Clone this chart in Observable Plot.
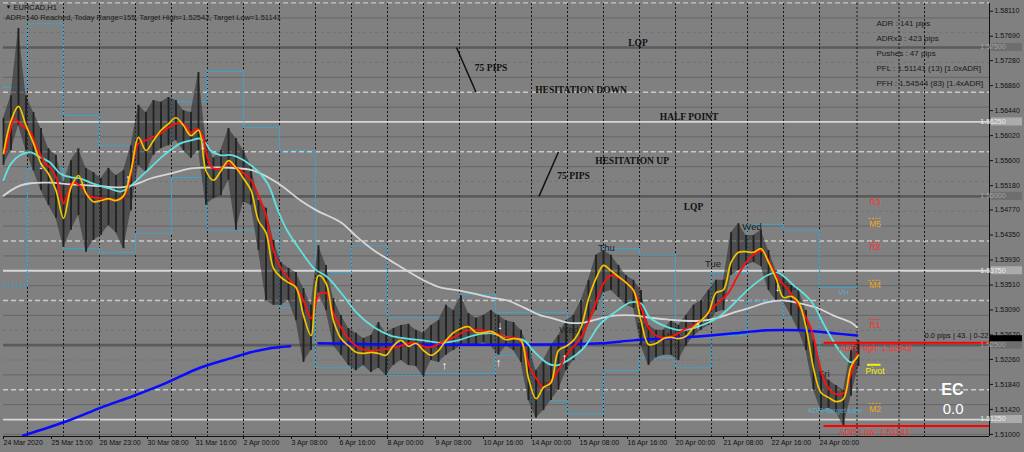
<!DOCTYPE html>
<html>
<head>
<meta charset="utf-8">
<script src="https://cdn.jsdelivr.net/npm/d3@7"></script>
<script src="https://cdn.jsdelivr.net/npm/@observablehq/plot@0.6"></script>
<style>
  html, body { margin:0; padding:0; background:#808080; }
  #chart { width:1024px; height:452px; overflow:hidden; }
  svg { display:block; }
</style>
</head>
<body>
<div id="chart"></div>
<script>
// ================= DATA =================
// hourly bars, index 0 = first bar on screen; candles sampled every 5 bars
const BAR_STEP = 5;
const candleHigh = [
 1.5631,1.5669,1.5782,1.5669,1.5641,1.5614,1.5580,1.5569,1.5523,1.5560,
 1.5580,1.5547,1.5540,1.5530,1.5547,1.5535,1.5543,1.5585,1.5653,1.5641,
 1.5661,1.5658,1.5666,1.5661,1.5644,1.5641,1.5708,1.5594,1.5564,1.5577,
 1.5614,1.5597,1.5577,1.5552,1.5493,1.5480,1.5426,1.5389,1.5379,1.5372,
 1.5345,1.5317,1.5417,1.5384,1.5328,1.5300,1.5278,1.5270,1.5261,1.5266,
 1.5288,1.5270,1.5278,1.5283,1.5285,1.5275,1.5270,1.5283,1.5291,1.5317,
 1.5308,1.5333,1.5303,1.5295,1.5300,1.5308,1.5300,1.5291,1.5288,1.5275,
 1.5249,1.5207,1.5224,1.5249,1.5266,1.5291,1.5300,1.5325,1.5359,1.5401,
 1.5409,1.5401,1.5384,1.5367,1.5359,1.5342,1.5283,1.5275,1.5275,1.5291,
 1.5283,1.5300,1.5317,1.5325,1.5342,1.5359,1.5359,1.5439,1.5454,1.5434,
 1.5434,1.5443,1.5409,1.5375,1.5367,1.5350,1.5342,1.5308,1.5258,1.5207,
 1.5191,1.5182,1.5174,1.5241,1.5258];
const candleLow = [
 1.5552,1.5577,1.5619,1.5577,1.5543,1.5510,1.5485,1.5463,1.5414,1.5443,
 1.5468,1.5406,1.5426,1.5434,1.5451,1.5439,1.5412,1.5476,1.5552,1.5540,
 1.5569,1.5580,1.5585,1.5594,1.5577,1.5564,1.5577,1.5485,1.5496,1.5501,
 1.5527,1.5443,1.5490,1.5485,1.5409,1.5325,1.5317,1.5317,1.5325,1.5291,
 1.5221,1.5241,1.5338,1.5308,1.5249,1.5233,1.5216,1.5207,1.5216,1.5204,
 1.5211,1.5199,1.5216,1.5224,1.5216,1.5214,1.5197,1.5224,1.5221,1.5233,
 1.5241,1.5249,1.5249,1.5249,1.5254,1.5248,1.5233,1.5248,1.5241,1.5221,
 1.5157,1.5127,1.5140,1.5157,1.5174,1.5207,1.5224,1.5241,1.5288,1.5308,
 1.5338,1.5342,1.5330,1.5317,1.5312,1.5249,1.5216,1.5229,1.5233,1.5233,
 1.5224,1.5248,1.5265,1.5275,1.5283,1.5305,1.5308,1.5367,1.5375,1.5384,
 1.5389,1.5382,1.5342,1.5325,1.5322,1.5300,1.5275,1.5241,1.5174,1.5140,
 1.5144,1.5137,1.5114,1.5164,1.5214];
// yellow fast average, same sample positions as the candles
const fastMA = [
 1.5572,1.5627,1.5651,1.5619,1.5589,1.5555,1.5538,1.5510,1.5463,1.5515,
 1.5535,1.5505,1.5491,1.5493,1.5496,1.5493,1.5501,1.5543,1.5599,1.5577,
 1.5594,1.5611,1.5622,1.5632,1.5619,1.5602,1.5611,1.5543,1.5527,1.5543,
 1.5560,1.5548,1.5530,1.5510,1.5459,1.5439,1.5379,1.5364,1.5355,1.5347,
 1.5300,1.5266,1.5367,1.5354,1.5291,1.5261,1.5249,1.5238,1.5236,1.5238,
 1.5236,1.5233,1.5249,1.5258,1.5248,1.5253,1.5241,1.5233,1.5241,1.5258,
 1.5271,1.5278,1.5281,1.5271,1.5271,1.5273,1.5266,1.5259,1.5261,1.5258,
 1.5194,1.5160,1.5179,1.5187,1.5241,1.5248,1.5258,1.5280,1.5328,1.5362,
 1.5384,1.5375,1.5365,1.5355,1.5342,1.5291,1.5251,1.5253,1.5261,1.5263,
 1.5261,1.5265,1.5280,1.5291,1.5305,1.5338,1.5343,1.5389,1.5406,1.5407,
 1.5406,1.5412,1.5389,1.5362,1.5330,1.5332,1.5322,1.5280,1.5211,1.5170,
 1.5162,1.5155,1.5160,1.5214,1.5233];
// [bar index, price]
const redMA = [[1,1.5572],[5,1.5616],[7,1.5631],[11,1.5622],[18,1.5607],[21,1.5589],[28,1.5555],[31,1.5548],[35,1.5532],[38,1.5505],
 [40,1.5488],[43,1.5505],[46,1.5523],[51,1.5518],[57,1.5501],[61,1.5498],[68,1.5496],[75,1.5493],[79,1.5496],[83,1.5515],
 [87,1.5565],[90,1.5589],[95,1.5594],[99,1.5599],[105,1.5606],[109,1.5614],[115,1.5622],[120,1.5622],[125,1.5607],[129,1.5614],
 [133,1.5599],[136,1.5565],[139,1.5548],[145,1.5547],[150,1.5555],[155,1.5548],[158,1.5543],[165,1.5527],[170,1.5501],[175,1.5468],
 [180,1.5409],[185,1.5379],[190,1.5362],[195,1.5347],[200,1.5325],[205,1.5295],[210,1.5333],[215,1.5338],[220,1.5303],[225,1.5280],
 [231,1.5258],[238,1.5244],[247,1.5241],[256,1.5244],[265,1.5249],[273,1.5254],[283,1.5246],[291,1.5253],[300,1.5263],[309,1.5275],
 [318,1.5275],[327,1.5271],[336,1.5263],[343,1.5261],[347,1.5246],[351,1.5212],[356,1.5191],[360,1.5179],[367,1.5196],[376,1.5236],
 [385,1.5263],[393,1.5308],[400,1.5354],[405,1.5367],[413,1.5359],[420,1.5342],[425,1.5313],[431,1.5275],[438,1.5263],[447,1.5266],
 [453,1.5275],[465,1.5291],[473,1.5313],[483,1.5337],[489,1.5364],[496,1.5392],[505,1.5409],[509,1.5397],[516,1.5364],[525,1.5337],
 [531,1.5313],[538,1.5280],[543,1.5229],[547,1.5191],[553,1.5170],[560,1.5169],[565,1.5202],[569,1.5236]];
const cyanMA = [[0,1.5527],[5,1.5555],[11,1.5569],[18,1.5574],[25,1.5565],[31,1.5557],[38,1.5538],[45,1.5532],[51,1.5530],[58,1.5523],
 [65,1.5517],[71,1.5513],[78,1.5508],[85,1.5518],[91,1.5532],[98,1.5548],[105,1.5565],[111,1.5577],[118,1.5589],[125,1.5594],
 [131,1.5597],[135,1.5589],[138,1.5577],[145,1.5569],[153,1.5569],[167,1.5548],[176,1.5522],[183,1.5476],[189,1.5443],[198,1.5409],
 [207,1.5379],[216,1.5364],[225,1.5338],[236,1.5303],[247,1.5280],[258,1.5266],[269,1.5261],[280,1.5258],[291,1.5254],[303,1.5258],
 [313,1.5266],[325,1.5270],[336,1.5263],[347,1.5258],[353,1.5241],[363,1.5219],[369,1.5216],[376,1.5224],[387,1.5246],[398,1.5286],
 [409,1.5308],[418,1.5322],[425,1.5320],[431,1.5296],[443,1.5280],[453,1.5275],[465,1.5283],[476,1.5296],[487,1.5320],[498,1.5347],
 [509,1.5367],[516,1.5372],[527,1.5350],[538,1.5325],[549,1.5275],[558,1.5238],[565,1.5221],[569,1.5229]];
const whiteMA = [[0,1.5501],[5,1.5510],[11,1.5518],[18,1.5522],[31,1.5523],[45,1.5520],[65,1.5517],[78,1.5515],[85,1.5518],[91,1.5523],
 [98,1.5530],[111,1.5538],[125,1.5547],[131,1.5548],[151,1.5548],[167,1.5543],[183,1.5522],[198,1.5493],[209,1.5476],[225,1.5456],
 [236,1.5431],[247,1.5409],[258,1.5392],[269,1.5375],[280,1.5359],[291,1.5347],[303,1.5342],[313,1.5337],[325,1.5330],[336,1.5325],
 [347,1.5313],[358,1.5300],[365,1.5296],[376,1.5288],[387,1.5288],[398,1.5295],[409,1.5300],[420,1.5300],[431,1.5296],[443,1.5293],
 [453,1.5291],[465,1.5291],[476,1.5296],[487,1.5305],[498,1.5313],[509,1.5322],[520,1.5325],[531,1.5320],[543,1.5312],[553,1.5300],
 [565,1.5288],[569,1.5280]];
const blueMA = [[13,1.5098],[43,1.5123],[65,1.5145],[87,1.5165],[109,1.5187],[131,1.5212],[153,1.5229],[165,1.5238],[176,1.5244],[191,1.5248],
 [200,null],[210,1.5253],[265,1.5251],[358,1.5251],[398,1.5253],[420,1.5258],[443,1.5261],[465,1.5265],[487,1.5270],[509,1.5275],
 [531,1.5275],[553,1.5270],[569,1.5266]];

// previous-day high / low step lines (cyan dotted)
const dayStart = [0,16,40,64,88,112,136,160,184,208,232,256,280,304,328,352,376,400,424,448,472,496,520,544];
const dayEnd = 570;
const dayHigh = [1.5683,1.5790,1.5636,1.5585,1.5594,1.5659,1.5710,1.5616,1.5577,1.5372,1.5417,1.5296,
                 1.5296,1.5335,1.5305,1.5305,1.5291,1.5412,1.5401,1.5291,1.5372,1.5453,1.5443,1.5347];
const dayLow  = [1.5350,1.5547,1.5412,1.5406,1.5438,1.5532,1.5443,1.5443,1.5313,1.5212,1.5212,1.5199,
                 1.5202,1.5202,1.5233,1.5157,1.5135,1.5207,1.5229,1.5212,1.5266,1.5325,1.5296,1.5140];
const separatorIdx = [16,40,64,88,112,136,160,184,208,232,256,280,304,328,352,376,400,424,448,472,496,520,544,569,597,614];

// horizontal levels
const levelLQP  = [1.5750,1.5500,1.5250];
const levelHalf = [1.5625,1.5375,1.5125];
const levelHes  = [1.5825,1.5675,1.5575,1.5425,1.5325,1.5175];
const level50   = [1.5800,1.5700,1.5650,1.5600,1.5550,1.5450,1.5400,1.5350,1.5300,1.5200,1.5150,1.5100];
const level25   = [1.5775,1.5725,1.5525,1.5475,1.5275,1.5225];

// axes
const xTickIdx = [0,32,64,96,128,160,192,224,256,288,320,352,384,416,448,480,512,544];
const xTickLabels = ["24 Mar 2020","25 Mar 15:00","26 Mar 23:00","30 Mar 08:00","31 Mar 16:00","2 Apr 00:00",
  "3 Apr 08:00","6 Apr 16:00","8 Apr 00:00","9 Apr 08:00","10 Apr 16:00","14 Apr 00:00","15 Apr 08:00",
  "16 Apr 16:00","20 Apr 00:00","21 Apr 08:00","22 Apr 16:00","24 Apr 00:00"];
const yTicks = [1.58110,1.57690,1.57280,1.56860,1.56440,1.56020,1.55600,1.55180,1.54770,1.54350,
  1.53930,1.53510,1.53090,1.52670,1.52260,1.51840,1.51420,1.51000];

// annotations
const annoText = [
  {i:423,p:1.5758,t:"LQP"},{i:325,p:1.5715,t:"75 PIPS"},{i:385,p:1.5679,t:"HESITATION DOWN"},
  {i:457,p:1.5634,t:"HALF POINT"},{i:419,p:1.5560,t:"HESITATION UP"},{i:380,p:1.5535,t:"75 PIPS"},
  {i:460,p:1.5483,t:"LQP"}];
const annoLines = [{i1:302,p1:1.5750,i2:315,p2:1.5675},{i1:370,p1:1.5575,i2:357,p2:1.5500}];
const weekdayLabels = [
  {i:402,p:1.5414,t:"Thu"},{i:377,p:1.5276,t:"Wed"},{i:359,p:1.5184,t:"Tue"},{i:426,p:1.5283,t:"Fri"},
  {i:445,p:1.5266,t:"Mon"},{i:473,p:1.5387,t:"Tue"},{i:499,p:1.5449,t:"Wed"},{i:523,p:1.5347,t:"Thu"},
  {i:547,p:1.5202,t:"Fri"}];
const fractals = [
  {i:25,p:1.5552,t:"↓"},{i:83,p:1.5530,t:"↑"},{i:133,p:1.5585,t:"↓"},{i:294,p:1.5216,t:"↑"},
  {i:330,p:1.5221,t:"↑"},{i:331,p:1.5283,t:"↓"},{i:374,p:1.5229,t:"↑"},{i:463,p:1.5283,t:"↑"},
  {i:516,p:1.5347,t:"↓"}];
const pivotLevels = [
  {t:"R3",p:1.5500,c:"#ff3030"},{t:"M5",p:1.5463,c:"#f0a81c"},{t:"R2",p:1.5423,c:"#ff3030"},
  {t:"M4",p:1.5359,c:"#f0a81c"},{t:"R1",p:1.5293,c:"#ff3030"},{t:"M2",p:1.5152,c:"#f0a81c"}];
const pivotMain = [{t:"Pivot",p:1.5217,c:"#f4f400"}];
const pivotIdx = [577,585,581]; // segment start, end, label centre

const adrHigh = 1.52542, adrLow = 1.51141, adrStartIdx = 547, adrLabelIdx = 557;
const adrLabels = [{p:adrHigh,t:"ADR High: 1.52542"},{p:adrLow,t:"ADR Low: 1.51141"}];
const currentPrice = 1.52608;
const titleText = "EURCAD,H1";
const statusText = "ADR=140 Reached, Today Range=155, Target High=1.52542, Target Low=1.51141";
const infoLines = ["ADR : 141 pips","ADRx3 : 423 pips","Pushes : 47 pips","PFL : 1.51141 (13) [1.0xADR]","PFH : 1.54544 (83) [1.4xADR]"];
const spreadText = "0.0 pips | 43. | 0-22";

// ================= CHART =================
const xMax = 657.3, yLo = 1.50965, yHi = 1.58240;
const FONT = "'Liberation Sans', Arial, sans-serif";
const candles = candleHigh.map((h,k) => ({i:k*BAR_STEP, hi:h, lo:candleLow[k], ma:fastMA[k]}));
const toPts = a => a.map(([i,p]) => ({i, p}));
const stepPts = vals => dayStart.map((s,n) => ({i:s, p:vals[n]})).concat([{i:dayEnd, p:vals[vals.length-1]}]);
const tickLabel = new Map(xTickIdx.map((d,j) => [d, xTickLabels[j]]));

const chart = Plot.plot({
  width:1024, height:452,
  marginLeft:3, marginRight:35, marginTop:3, marginBottom:16,
  x:{domain:[0,xMax], axis:null},
  y:{domain:[yLo,yHi], axis:null},
  color:{type:"identity"},
  style:{background:"#808080", fontFamily:FONT, color:"#111", overflow:"visible"},
  marks:[
    Plot.ruleY(level25, {stroke:"#727272", strokeWidth:1, strokeDasharray:"3,3"}),
    Plot.ruleY(level50, {stroke:"#6b6b6b", strokeWidth:1.3}),
    Plot.ruleY(levelHes, {stroke:"#c8c8c8", strokeWidth:1.4, strokeDasharray:"5,3"}),
    Plot.ruleY(levelLQP, {stroke:"#5b5b5b", strokeWidth:2.6}),
    Plot.ruleY(levelHalf, {stroke:"#d6d6d6", strokeWidth:1.8}),
    Plot.ruleX(separatorIdx, {stroke:"#151515", strokeWidth:1, strokeDasharray:"2,2"}),
    Plot.line(stepPts(dayHigh), {x:"i", y:"p", curve:"step-after", stroke:"#33a9d8", strokeWidth:1.2, strokeDasharray:"2,2"}),
    Plot.line(stepPts(dayLow),  {x:"i", y:"p", curve:"step-after", stroke:"#33a9d8", strokeWidth:1.2, strokeDasharray:"2,2"}),
    Plot.text(weekdayLabels, {x:"i", y:"p", text:"t", fill:"#1c1c1c", fontSize:9.5}),
    // candles: high-low band plus wicks
    Plot.areaY(candles, {x:"i", y1:"lo", y2:"hi", fill:"#2e2e2e", fillOpacity:0.6}),
    Plot.ruleX(candles, {x:"i", y1:"lo", y2:"hi", stroke:"#222", strokeWidth:1.8}),
    Plot.line(toPts(blueMA),  {x:"i", y:"p", stroke:"#0a0aff", strokeWidth:2.5, curve:"catmull-rom"}),
    Plot.line(toPts(whiteMA), {x:"i", y:"p", stroke:"#d6d6d6", strokeWidth:1.8, curve:"catmull-rom"}),
    Plot.line(toPts(cyanMA),  {x:"i", y:"p", stroke:"#62e0e0", strokeWidth:1.8, curve:"catmull-rom"}),
    Plot.line(toPts(redMA),   {x:"i", y:"p", stroke:"#ff0f0f", strokeWidth:1.8, curve:"catmull-rom"}),
    Plot.line(candles, {x:"i", y:"ma", stroke:"#f2c400", strokeWidth:1.7, curve:"catmull-rom"}),
    Plot.text(fractals, {x:"i", y:"p", text:"t", fill:"#ffffff", fontSize:11, fontWeight:"bold"}),
    Plot.link(annoLines, {x1:"i1", y1:"p1", x2:"i2", y2:"p2", stroke:"#111", strokeWidth:1.5}),
    Plot.text(annoText, {x:"i", y:"p", text:"t", fill:"#111", fontSize:9.5, fontWeight:"bold", fontFamily:"'Liberation Serif', 'Times New Roman', serif"}),
    // pivots
    Plot.ruleY(pivotLevels.slice(1), {y:"p", x1:pivotIdx[0], x2:pivotIdx[1], stroke:"c", strokeDasharray:"2,1.5", strokeWidth:1}),
    Plot.ruleY(pivotMain, {y:"p", x1:pivotIdx[0]-1, x2:pivotIdx[1], stroke:"c", strokeWidth:2}),
    Plot.text(pivotLevels, {x:pivotIdx[2], y:"p", text:"t", fill:"c", fontSize:8.5, dy:5.5}),
    Plot.text(pivotMain, {x:pivotIdx[2], y:"p", text:"t", fill:"c", fontSize:8.5, dy:6}),
    Plot.text([{i:560,p:1.5338,t:"VH"}], {x:"i", y:"p", text:"t", fill:"#4fb0d6", fontSize:8}),
    Plot.text([{i:536,p:1.5140,t:"ADR Target Low"}], {x:"i", y:"p", text:"t", fill:"#5ab3d3", fontSize:7.5, textAnchor:"start", fillOpacity:0.8}),
    // ADR lines
    Plot.ruleY([adrHigh, adrLow], {x1:adrStartIdx, x2:xMax, stroke:"#ff0000", strokeWidth:2}),
    Plot.text(adrLabels, {x:adrLabelIdx, y:"p", text:"t", fill:"#ff3030", fontSize:8.5, textAnchor:"start", dy:6}),
    Plot.text([spreadText], {x:xMax, y:currentPrice, text:d=>d, fill:"#111", fontSize:7.5, textAnchor:"end", dx:-1, dy:-3}),
    // texts
    Plot.text(["▼"], {frameAnchor:"top-left", dx:2, dy:4, fontSize:6, fill:"#111", textAnchor:"start", lineAnchor:"middle"}),
    Plot.text([titleText], {frameAnchor:"top-left", dx:10, dy:4, fontSize:7.5, fill:"#111", textAnchor:"start", lineAnchor:"middle"}),
    Plot.text([statusText], {frameAnchor:"top-left", dx:2, dy:14.5, fontSize:7.5, fill:"#1a1a1a", textAnchor:"start", lineAnchor:"middle"}),
    ...infoLines.map((t,j) => Plot.text([t], {frameAnchor:"top-left", dx:873, dy:20.3 + 14.8*j, fontSize:8, fill:"#1a1a1a", textAnchor:"start", lineAnchor:"middle"})),
    Plot.text(["EC"], {frameAnchor:"bottom-right", dx:-26, dy:-47, fontSize:16, fontWeight:"bold", fill:"#ffffff", lineAnchor:"middle"}),
    Plot.text(["0.0"], {frameAnchor:"bottom-right", dx:-26, dy:-27, fontSize:15, fill:"#ffffff", lineAnchor:"middle"}),
    // axes
    Plot.axisX(xTickIdx, {anchor:"bottom", tickSize:3, tickPadding:1, textAnchor:"start", fontSize:7, tickFormat:d => tickLabel.get(d)}),
    Plot.axisY(yTicks, {anchor:"right", tickSize:3, tickPadding:2, fontSize:7, tickFormat:d => d.toFixed(5)}),
    Plot.ruleX([xMax], {stroke:"#111", strokeWidth:1}),
    Plot.ruleY([yLo], {stroke:"#111", strokeWidth:1})
  ]
});

document.getElementById("chart").appendChild(chart);

// price-label boxes on the right axis (positioned with the chart's own y scale)
const ys = chart.scale("y");
const yS = d3.scaleLinear().domain(ys.domain).range(ys.range);
const svg = d3.select(chart);
const g = svg.append("g").attr("font-family", FONT).attr("font-size", 7);
const boxes = levelLQP.map(p => ({p, fill:"#6e6e6e", txt:"#a2a2a2"}))
  .concat(levelHalf.map(p => ({p, fill:"#ababab", txt:"#ececec"})));
boxes.forEach(b => {
  const Y = yS(b.p);
  g.append("rect").attr("x", 991).attr("y", Y - 4).attr("width", 31).attr("height", 8).attr("fill", b.fill);
  g.append("text").attr("x", 993).attr("y", Y).attr("dy", "0.35em").attr("fill", b.txt).text(b.p.toFixed(5));
});
const Yc = yS(currentPrice);
g.append("rect").attr("x", 990).attr("y", Yc - 3).attr("width", 32).attr("height", 6).attr("fill", "#000");
</script>
</body>
</html>
